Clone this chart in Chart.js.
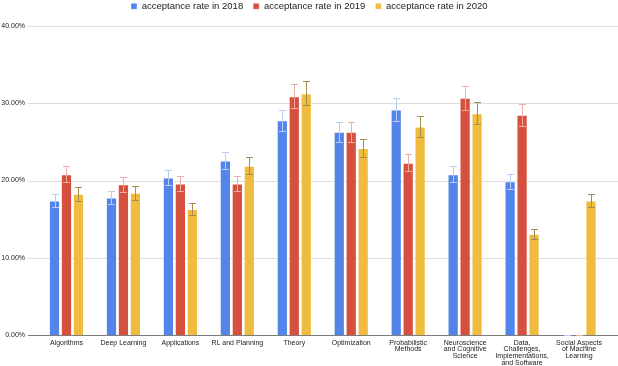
<!DOCTYPE html>
<html>
<head>
<meta charset="utf-8">
<script src="https://cdn.jsdelivr.net/npm/chart.js@4"></script>
<style>
  html, body { margin: 0; padding: 0; background: #fff; }
  #wrap { width: 618px; height: 366px; position: relative; }
</style>
</head>
<body>
<div id="wrap"><canvas id="rateChart"></canvas></div>
<script>
const categories = [
  'Algorithms',
  'Deep Learning',
  'Applications',
  'RL and Planning',
  'Theory',
  'Optimization',
  ['Probabilistic', 'Methods'],
  ['Neuroscience', 'and Cognitive', 'Science'],
  ['Data,', 'Challenges,', 'Implementations,', 'and Software'],
  ['Social Aspects', 'of Machine', 'Learning']
];
const seriesNames = ['acceptance rate in 2018', 'acceptance rate in 2019', 'acceptance rate in 2020'];
const rate2018 = [17.4, 17.8, 20.4, 22.6, 27.8, 26.3, 29.2, 20.8, 19.9, 0];
const rate2019 = [20.8, 19.5, 19.6, 19.6, 30.9, 26.3, 22.3, 30.7, 28.5, 0];
const rate2020 = [18.3, 18.4, 16.3, 21.9, 31.3, 24.2, 27.0, 28.7, 13.1, 17.4];
const yTicks = [0, 10, 20, 30, 40];
// error bars are the sheet's "percent" type: 5% of each value
const ERROR_PCT = 5;

const barColors = ['#5284e9', '#d6503f', '#f0bc40'];
const errColors = ['#b9cdf7', '#f0aba4', '#a58e4c'];

const FONT = "'Liberation Sans', Arial, sans-serif";

// horizontal grid lines run a bit past the plot area, like the sheet does
const wideGrid = {
  id: 'wideGrid',
  beforeDatasetsDraw(chart) {
    const { ctx, scales: { y } } = chart;
    ctx.save();
    y.ticks.forEach(t => {
      const py = Math.round(y.getPixelForValue(t.value)) + 0.5;
      ctx.beginPath();
      ctx.strokeStyle = t.value === 0 ? '#7d7d7d' : '#dddddd';
      ctx.lineWidth = 1;
      ctx.moveTo(28, py);
      ctx.lineTo(chart.width, py);
      ctx.stroke();
    });
    ctx.restore();
  }
};

const errorBars = {
  id: 'errorBars',
  afterDatasetsDraw(chart) {
    const { ctx, scales: { y } } = chart;
    ctx.save();
    ctx.lineWidth = 1;
    chart.data.datasets.forEach((ds, i) => {
      const meta = chart.getDatasetMeta(i);
      ctx.strokeStyle = errColors[i];
      meta.data.forEach((bar, j) => {
        const v = ds.data[j];
        if (v === null || v === undefined) return;
        const e = v * ERROR_PCT / 100;
        const x = Math.round(bar.x) + 0.5;
        const top = Math.round(y.getPixelForValue(v + e)) + 0.5;
        const bot = Math.round(y.getPixelForValue(v - e)) + 0.5;
        ctx.beginPath();
        ctx.moveTo(x, top); ctx.lineTo(x, bot);
        ctx.moveTo(x - 3.5, top); ctx.lineTo(x + 3.5, top);
        ctx.moveTo(x - 3.5, bot); ctx.lineTo(x + 3.5, bot);
        ctx.stroke();
      });
    });
    ctx.restore();
  }
};

// a bit more room between legend and plot, and centre it on the page
const legendGap = {
  id: 'legendGap',
  beforeInit(chart) {
    const lg = chart.legend;
    const fit = lg.fit;
    lg.fit = function () {
      fit.bind(lg)();
      this.height += 5;
    };
    const draw = lg.draw;
    lg.draw = function () {
      chart.ctx.save();
      chart.ctx.translate(5.5, 0);
      draw.bind(lg)();
      chart.ctx.restore();
    };
  }
};

const ctx = document.getElementById('rateChart').getContext('2d');
new Chart(ctx, {
  type: 'bar',
  data: {
    labels: categories,
    datasets: [rate2018, rate2019, rate2020].map((vals, i) => ({
      label: seriesNames[i],
      data: vals,
      backgroundColor: barColors[i],
      borderColor: 'rgba(255,255,255,0.4)',
      borderWidth: 1,
      barPercentage: 0.94,
      categoryPercentage: 0.63
    }))
  },
  options: {
    responsive: true,
    maintainAspectRatio: false,
    animation: false,
    layout: { padding: { top: -8.5, right: 10.5, left: 0, bottom: -4.4 } },
    plugins: {
      tooltip: { enabled: false },
      legend: {
        position: 'top',
        labels: {
          boxWidth: 6,
          boxHeight: 6,
          padding: 10,
          color: '#222',
          font: { family: FONT, size: 9.5 }
        }
      }
    },
    scales: {
      x: {
        grid: { display: false, drawTicks: false },
        border: { display: false },
        ticks: {
          autoSkip: false,
          maxRotation: 0,
          minRotation: 0,
          padding: 4.4,
          color: '#222',
          font: { family: FONT, size: 7, lineHeight: 0.95 }
        }
      },
      y: {
        min: 0,
        max: 40,
        afterBuildTicks: (scale) => { scale.ticks = yTicks.map(v => ({ value: v })); },
        afterFit: (scale) => { scale.width = 38; },
        grid: { display: false, drawTicks: false },
        border: { display: false },
        ticks: {
          padding: 13,
          color: '#222',
          font: { family: FONT, size: 7 },
          callback: (value) => value.toFixed(2) + '%'
        }
      }
    }
  },
  plugins: [wideGrid, errorBars, legendGap]
});
</script>
</body>
</html>
